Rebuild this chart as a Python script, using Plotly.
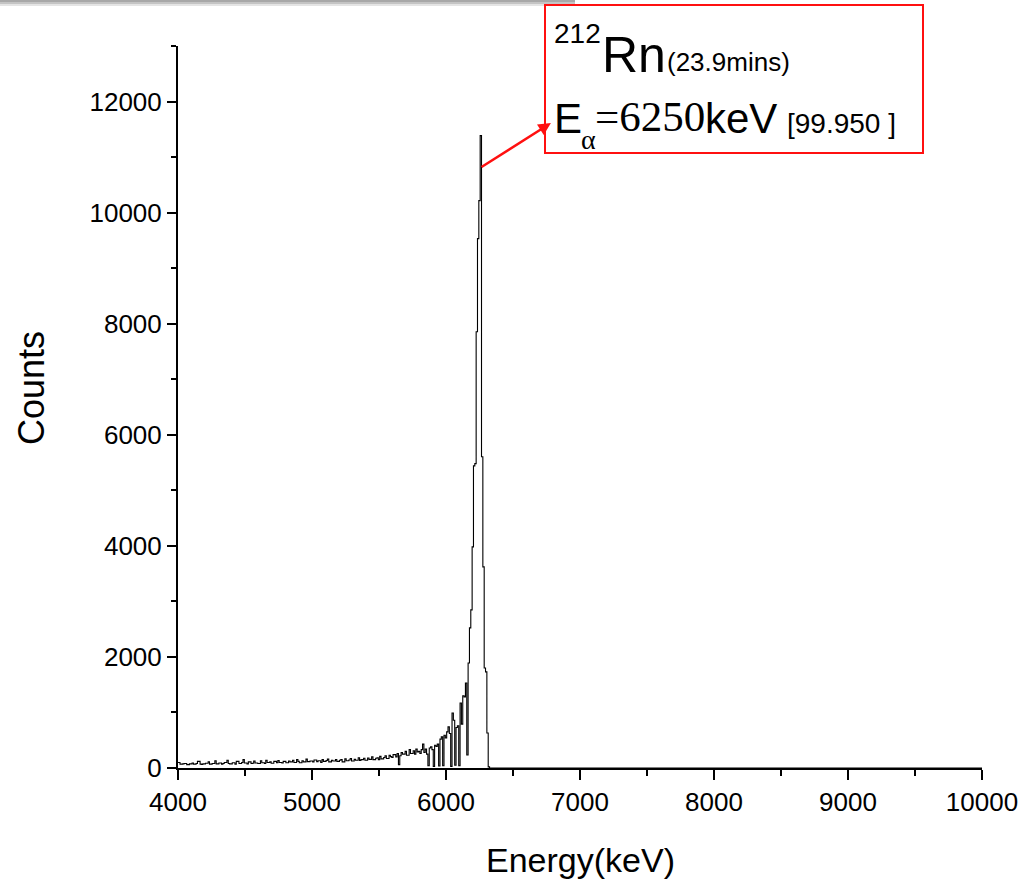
import plotly.graph_objects as go

# Alpha spectrum of 212Rn, 10 keV bins (bin centres in keV)
bin_width = 10
e_start = 4000

counts_low = [
    # 4000-4190
    100, 100, 70, 70, 75, 80, 80, 60, 60, 75, 75, 90, 70, 70, 80, 120, 120, 70, 65, 75,
    # 4200-4390
    75, 85, 85, 110, 70, 70, 80, 80, 130, 75, 75, 90, 90, 70, 80, 100, 100, 140, 80, 75,
    # 4400-4590
    75, 95, 95, 70, 120, 120, 80, 80, 100, 150, 90, 90, 75, 110, 110, 80, 85, 125, 90, 90,
    # 4600-4790
    80, 80, 130, 95, 95, 80, 140, 100, 100, 110, 85, 85, 120, 120, 95, 135, 100, 100, 90, 120,
    # 4800-4990
    120, 95, 95, 125, 110, 110, 140, 100, 100, 150, 120, 95, 95, 130, 110, 110, 160, 115, 115, 125,
    # 5000-5190
    125, 110, 145, 145, 115, 130, 130, 100, 150, 120, 120, 135, 160, 110, 110, 140, 125, 125, 150, 120,
    # 5200-5390
    120, 140, 150, 110, 110, 165, 130, 130, 145, 170, 125, 125, 155, 140, 140, 185, 135, 150, 150, 175,
    # 5400-5590
    140, 140, 180, 155, 155, 200, 150, 150, 175, 185, 150, 210, 165, 165, 190, 220, 170, 170, 230, 205,
    # 5600-5790
    190, 240, 240, 200, 260, 60, 220, 280, 250, 250, 300, 230, 230, 330, 260, 260, 310, 250, 340, 290,
]

counts_peak = [
    # 5800-5990
    300, 260, 330, 430, 280, 340, 250, 40, 360, 380,
    330, 30, 410, 390, 430, 35, 520, 560, 40, 590,
    # 6000-6190
    540, 650, 740, 620, 30, 990, 860, 50, 730, 760,
    40, 1170, 790, 1300, 1280, 1530, 234, 1890, 2523, 2847,
    # 6200-6330
    3982, 5440, 5480, 7856, 9532, 10216, 11387, 5604, 3622, 1800,
    1730, 631, 20, 0,
]

counts = counts_low + counts_peak
centres = [e_start + i * bin_width for i in range(len(counts))]

x_range = [4000, 10000]
y_range = [0, 13000]
x_ticks = [4000, 5000, 6000, 7000, 8000, 9000, 10000]
y_ticks = [0, 2000, 4000, 6000, 8000, 10000, 12000]

# step outline: left bin edges, closed with a flat zero line to the axis end
step_x = [c - bin_width / 2 for c in centres] + [x_range[1]]
step_y = counts + [0]

peak_energy = 6254
peak_counts = 10803
label_energy = 6783
label_counts = 11613

W, H = 1034, 883
ml, mr, mt, mb = 178, 52, 46, 115
pw, ph = W - ml - mr, H - mt - mb


def px(x):
    return (x - ml) / pw


def py(y):
    return (H - mb - y) / ph


SANS = "Liberation Sans, Arial, sans-serif"
SERIF = "Liberation Serif, Times New Roman, serif"

fig = go.Figure()
fig.add_trace(go.Scatter(
    x=step_x, y=step_y, mode="lines", line_shape="hv",
    line=dict(color="black", width=1.1), hoverinfo="skip", showlegend=False,
))

axis_font = dict(family=SANS, size=26, color="black")

fig.update_layout(
    width=W, height=H,
    margin=dict(l=ml, r=mr, t=mt, b=mb, autoexpand=False),
    paper_bgcolor="white", plot_bgcolor="white",
    font=axis_font,
    xaxis=dict(
        range=x_range, tickvals=x_ticks, ticktext=[str(v) for v in x_ticks],
        ticks="outside", ticklen=10, tickwidth=2,
        tickcolor="black", showline=True, linecolor="black", linewidth=2,
        showgrid=False, zeroline=False, tickfont=axis_font,
        minor=dict(dtick=500, ticks="outside", ticklen=6, tickwidth=2, tickcolor="black",
                   showgrid=False),
    ),
    yaxis=dict(
        range=y_range, tickvals=y_ticks, ticktext=[str(v) for v in y_ticks],
        ticks="outside", ticklen=9, tickwidth=2,
        tickcolor="black", showline=True, linecolor="black", linewidth=2,
        showgrid=False, zeroline=False, tickfont=axis_font,
        minor=dict(dtick=1000, ticks="outside", ticklen=5, tickwidth=2, tickcolor="black",
                   showgrid=False),
    ),
)

shapes = []
# soft grey shadow along the top edge
for (y0, y1, col) in [(0, 2, "#a8a8a8"), (2, 4, "#c4c4c4"), (4, 6, "#e4e4e4")]:
    shapes.append(dict(type="rect", xref="paper", yref="paper",
                       x0=px(0), x1=px(575), y0=py(y1), y1=py(y0),
                       fillcolor=col, line=dict(width=0), layer="above"))
# label frame
shapes.append(dict(type="rect", xref="paper", yref="paper",
                   x0=px(545), x1=px(923), y0=py(153), y1=py(5),
                   line=dict(color="#ff1010", width=2), fillcolor="white", layer="above"))
fig.update_layout(shapes=shapes)


def label(text, left, centre, size, family=SANS):
    return dict(text=text, xref="paper", yref="paper", x=px(left), y=py(centre),
                xanchor="left", yanchor="middle", showarrow=False, borderpad=0,
                font=dict(family=family, size=size, color="black"))


annotations = [
    dict(text="Energy(keV)", xref="paper", yref="paper", x=px(580), y=py(860),
         xanchor="center", yanchor="middle",
         showarrow=False, font=dict(family=SANS, size=34, color="black")),
    dict(text="Counts", xref="paper", yref="paper", x=px(31), y=py(388), textangle=-90,
         xanchor="center", yanchor="middle",
         showarrow=False, font=dict(family=SANS, size=36, color="black")),
    # nuclide and half-life
    label("212", 553, 33, 28),
    label("Rn", 601, 55, 50),
    label("(23.9mins)", 666, 62, 26),
    # alpha energy and intensity
    label("E", 553, 118, 42),
    label("α", 580, 139, 28, SERIF),
    label("=6250", 594, 117, 43, SERIF),
    label("keV", 704, 118, 42),
    label("[99.950 ]", 786, 124, 28),
    dict(text="", x=label_energy, y=label_counts, ax=peak_energy, ay=peak_counts,
         xref="x", yref="y", axref="x", ayref="y", showarrow=True,
         arrowhead=2, arrowsize=1, arrowwidth=2.5, arrowcolor="#ff1010"),
]
fig.update_layout(annotations=annotations)

fig.write_html("out.html")
